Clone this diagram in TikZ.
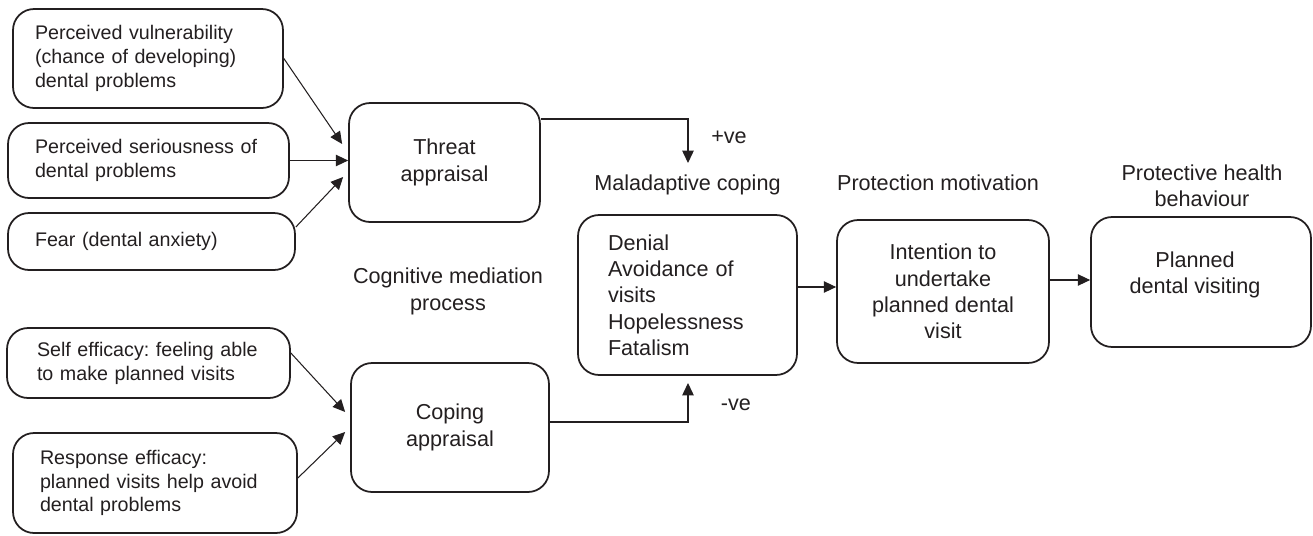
\documentclass[tikz,border=0pt]{standalone}
\usepackage{fontspec}
\setmainfont{Liberation Sans}
\usetikzlibrary{arrows.meta,calc}
\definecolor{ink}{RGB}{35,31,32}
\begin{document}
\frenchspacing
\begin{tikzpicture}[x=0.02cm,y=-0.02cm, color=ink,
  small/.style={font=\fontsize{11.2}{13.6}\selectfont},
  big/.style={font=\fontsize{12.3}{15}\selectfont},
  box/.style={draw, line width=1pt, rounded corners=0.42cm, inner ysep=0pt},
  lbox/.style={box, small, align=left},
  cbox/.style={box, big, align=center, inner xsep=0pt},
  lbl/.style={big, align=center, inner sep=0pt},
  arr/.style={line width=0.6pt, -{Triangle[length=7pt,width=6.5pt]}}]
\useasboundingbox (0,0) rectangle (1313,535);

% left input boxes
\node[lbox, inner xsep=0.44cm, text width=4.52cm, minimum height=1.98cm] (vul) at (148,58.5)
  {Perceived vulnerability\\(chance of developing)\\dental problems};
\node[lbox, inner xsep=0.54cm, text width=4.54cm, minimum height=1.5cm] (ser) at (148.5,160.5)
  {Perceived seriousness of\\dental problems};
\node[lbox, inner xsep=0.54cm, text width=4.66cm, minimum height=1.14cm] (fear) at (151.5,241.5)
  {Fear (dental anxiety)};
\node[lbox, inner xsep=0.6cm, text width=4.46cm, minimum height=1.4cm] (self) at (148.5,363)
  {Self efficacy: feeling able\\to make planned visits};
\node[lbox, inner xsep=0.54cm, text width=4.6cm, minimum height=2cm] (resp) at (155,483)
  {Response efficacy:\\planned visits help avoid\\dental problems};

% appraisal boxes
\node[cbox, minimum width=3.82cm, minimum height=2.38cm] (threat) at (444.5,162.5)
  {Threat\\appraisal};
\node[cbox, minimum width=3.96cm, minimum height=2.58cm] (coping) at (450,427.5)
  {Coping\\appraisal};

% right boxes
\node[box, big, align=left, inner xsep=0.6cm, text width=3.18cm, minimum height=3.2cm] (mal) at (687.5,295)
  {Denial\\Avoidance of\\visits\\Hopelessness\\Fatalism};
\node[cbox, minimum width=4.24cm, minimum height=2.86cm] (int) at (943,291.5)
  {Intention to\\undertake\\planned dental\\visit};
\node[cbox, minimum width=4.4cm, minimum height=2.6cm] (plan) at (1201,282) {};
\node[lbl] (plantext) at (1195,275) {Planned\\dental visiting};

% labels
\node[lbl] (lmal) at (687.5,185) {Maladaptive coping};
\node[lbl] (lprot) at (938,183) {Protection motivation};
\node[lbl] (lbeh) at (1202,185.5) {Protective health\\behaviour};
\node[lbl] (lcog) at (448,291.5) {Cognitive mediation\\process};
\node[lbl] (lpos) at (729,137) {+ve};
\node[lbl] (lneg) at (736,405) {-ve};

% connector end points
\coordinate (tipT) at (688,163);
\coordinate (tipC) at (688,383);

% connectors
\draw[arr] (vul.east) -- ($(threat.west)+(-6,-18.5)$);
\draw[arr] (ser.east) -- (ser.east -| threat.west);
\draw[arr] ($(fear.east)+(0,-14.5)$) -- ($(threat.west)+(-5,14.5)$);
\draw[arr] ($(self.east)+(0,-10)$) -- ($(coping.west)+(-5,-15.5)$);
\draw[arr] ($(resp.east)+(0,-5)$) -- ($(coping.west)+(-5,4.5)$);
\draw[arr] ($(threat.east)+(0,-43.5)$) -| (tipT);
\draw[arr] ($(coping.east)+(0,-5.5)$) -| (tipC);
\draw[arr] ($(mal.east)+(0,-8)$) coordinate (m1) -- (m1 -| int.west);
\draw[arr] ($(int.east)+(0,-11.5)$) coordinate (i1) -- (i1 -| plan.west);
\end{tikzpicture}
\end{document}
